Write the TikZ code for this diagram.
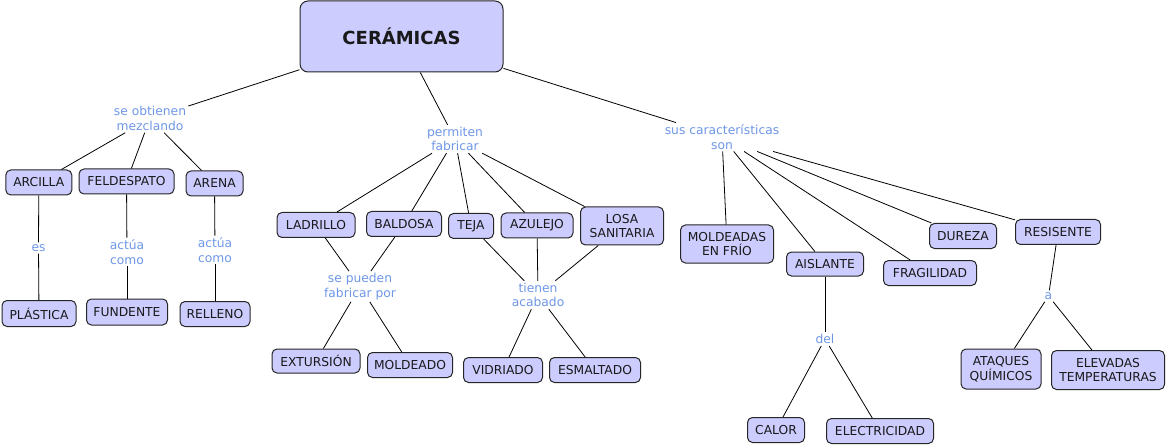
\documentclass[tikz,border=0pt]{standalone}
\usepackage{fontspec}
\setmainfont{DejaVu Sans}
\definecolor{boxfill}{RGB}{204,204,255}
\definecolor{linkblue}{RGB}{110,150,230}
\tikzset{
  concept/.style={draw=black!85, fill=boxfill, rounded corners=5pt, line width=1pt,
    inner sep=0pt, align=center, font=\fontsize{12.3}{14.5}\selectfont, text=black!90},
  link/.style={text=linkblue, align=center, font=\fontsize{12.3}{14.5}\selectfont, inner sep=2pt},
  conn/.style={line width=0.8pt, black}
}
\newcommand{\cbox}[5]{\node[concept, minimum width=#3pt, minimum height=#4pt] (#1) at (#2) {#5};}
\begin{document}
\begin{tikzpicture}[x=1pt,y=-1pt]
\useasboundingbox (0,0) rectangle (1166,446);
% main
\node[concept, rounded corners=8pt, minimum width=203pt, minimum height=71pt,
  font=\fontsize{18}{20}\selectfont\bfseries] (cer) at (401.5,36.5) {CERÁMICAS};
% left branch
\node[link] (sob) at (150,118.5) {se obtienen\\mezclando};
\cbox{arcilla}{38.8,182.5}{66}{25}{ARCILLA}
\cbox{feld}{126.5,181.5}{95}{25}{FELDESPATO}
\cbox{arena}{214.5,183.5}{57}{25}{ARENA}
\node[link] (es) at (38.5,248) {es};
\node[link] (ac1) at (127,252) {actúa\\como};
\node[link] (ac2) at (215,250) {actúa\\como};
\cbox{plastica}{39,313.5}{74}{26}{PLÁSTICA}
\cbox{fundente}{127,312}{81}{26}{FUNDENTE}
\cbox{relleno}{215,314}{70}{25}{RELLENO}
% middle branch
\node[link] (perm) at (455,139) {permiten\\fabricar};
\cbox{ladrillo}{316,225}{78}{25}{LADRILLO}
\cbox{baldosa}{404,224}{75}{25}{BALDOSA}
\cbox{teja}{471,226}{45}{25}{TEJA}
\cbox{azulejo}{537,225.5}{72}{25}{AZULEJO}
\cbox{losa}{622,226}{83}{38}{LOSA\\SANITARIA}
\node[link] (spf) at (360,286.5) {se pueden\\fabricar por};
\node[link] (tac) at (538,295) {tienen\\acabado};
\cbox{extursion}{316,361}{88}{24}{EXTURSIÓN}
\cbox{moldeado}{410,365}{85}{25}{MOLDEADO}
\cbox{vidriado}{503,370}{79}{25}{VIDRIADO}
\cbox{esmaltado}{595,370}{91}{25}{ESMALTADO}
% right branch
\node[link] (sus) at (722,137) {sus características\\son};
\cbox{moldfrio}{727,244}{93}{38}{MOLDEADAS\\EN FRÍO}
\cbox{aislante}{825,264}{77}{24}{AISLANTE}
\cbox{fragilidad}{930,273}{93}{25}{FRAGILIDAD}
\cbox{dureza}{963,236}{67}{25}{DUREZA}
\cbox{resisente}{1058,232}{85}{25}{RESISENTE}
\node[link] (del) at (825,339) {del};
\node[link] (a) at (1048.5,296) {a};
\cbox{calor}{776,430}{57}{25}{CALOR}
\cbox{electricidad}{880,431}{107}{25}{ELECTRICIDAD}
\cbox{ataques}{1001,369}{80}{40}{ATAQUES\\QUÍMICOS}
\cbox{elevadas}{1108,370}{113}{39}{ELEVADAS\\TEMPERATURAS}
% connectors
\draw[conn] (cer) -- (sob);
\draw[conn] (sob) -- (arcilla);
\draw[conn] (sob) -- (feld);
\draw[conn] (sob) -- (arena);
\draw[conn] (arcilla) -- (es);
\draw[conn] (es) -- (plastica);
\draw[conn] (feld) -- (ac1);
\draw[conn] (ac1) -- (fundente);
\draw[conn] (arena) -- (ac2);
\draw[conn] (ac2) -- (relleno);
\draw[conn] (cer) -- (perm);
\draw[conn] (perm) -- (ladrillo);
\draw[conn] (perm) -- (baldosa);
\draw[conn] (perm) -- (teja);
\draw[conn] (perm) -- (azulejo);
\draw[conn] (perm) -- (losa);
\draw[conn] (ladrillo) -- (spf);
\draw[conn] (baldosa) -- (spf);
\draw[conn] (spf) -- (extursion);
\draw[conn] (spf) -- (moldeado);
\draw[conn] (teja) -- (tac);
\draw[conn] (azulejo) -- (tac);
\draw[conn] (losa) -- (tac);
\draw[conn] (tac) -- (vidriado);
\draw[conn] (tac) -- (esmaltado);
\draw[conn] (cer) -- (sus);
\draw[conn] (sus) -- (moldfrio);
\draw[conn] (sus) -- (aislante);
\draw[conn] (sus) -- (fragilidad);
\draw[conn] (sus) -- (dureza);
\draw[conn] (sus) -- (resisente);
\draw[conn] (aislante) -- (del);
\draw[conn] (del) -- (calor);
\draw[conn] (del) -- (electricidad);
\draw[conn] (resisente) -- (a);
\draw[conn] (a) -- (ataques);
\draw[conn] (a) -- (elevadas);
\end{tikzpicture}
\end{document}
